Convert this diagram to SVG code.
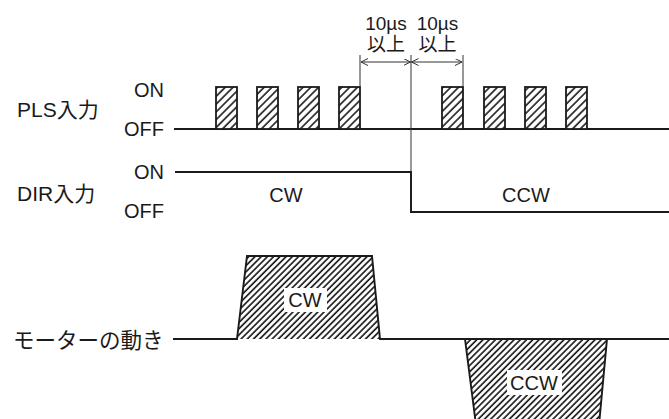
<svg xmlns="http://www.w3.org/2000/svg" width="669" height="419" viewBox="0 0 669 419">
<style>
.t{font-family:"Liberation Sans","Noto Sans CJK JP",sans-serif;fill:#1a1a1a;}
.w{fill:none;stroke:#1a1a1a;stroke-width:1.9;}
.d{fill:none;stroke:#333;stroke-width:1;}
.hp{fill:url(#hatchP);stroke:#1a1a1a;stroke-width:1.8;}
.hm{fill:url(#hatchM);stroke:none;}
</style>
<defs>
<pattern id="hatchP" width="5.5" height="5.5" patternUnits="userSpaceOnUse" patternTransform="rotate(45)">
<rect width="5.5" height="5.5" fill="#fff"/>
<line x1="1" y1="0" x2="1" y2="5.5" stroke="#1a1a1a" stroke-width="1.6"/>
</pattern>
<pattern id="hatchM" width="4.4" height="4.4" patternUnits="userSpaceOnUse" patternTransform="rotate(45)">
<rect width="4.4" height="4.4" fill="#fff"/>
<line x1="1" y1="0" x2="1" y2="4.4" stroke="#111" stroke-width="1.6"/>
</pattern>
<marker id="arr" markerWidth="9" markerHeight="9" refX="7" refY="3.5" orient="auto-start-reverse" markerUnits="userSpaceOnUse">
<path d="M0,0 L7,3.5 L0,7" fill="none" stroke="#333" stroke-width="1"/>
</marker>
</defs>

<g id="labels">
<text class="t" x="17" y="117" font-size="21">PLS入力</text>
<text class="t" x="17" y="201" font-size="21">DIR入力</text>
<text class="t" x="13" y="348" font-size="21.5">モーターの動き</text>
<text class="t" x="164" y="97" font-size="20" text-anchor="end">ON</text>
<text class="t" x="164" y="136" font-size="20" text-anchor="end">OFF</text>
<text class="t" x="164" y="179" font-size="20" text-anchor="end">ON</text>
<text class="t" x="164" y="218" font-size="20" text-anchor="end">OFF</text>
</g>

<g id="pls-signal">
<path class="w" d="M174 129 H669"/>
<rect class="hp" x="216" y="87" width="21" height="42"/>
<rect class="hp" x="257" y="87" width="21" height="42"/>
<rect class="hp" x="298" y="87" width="21" height="42"/>
<rect class="hp" x="339" y="87" width="21" height="42"/>
<rect class="hp" x="442" y="87" width="21" height="42"/>
<rect class="hp" x="484" y="87" width="21" height="42"/>
<rect class="hp" x="525" y="87" width="21" height="42"/>
<rect class="hp" x="566" y="87" width="21" height="42"/>
</g>

<g id="timing-dimension">
<path class="d" d="M360 55 V87 M463 55 V87 M411 55 V213"/>
<line class="d" x1="361" y1="62" x2="410.5" y2="62" marker-start="url(#arr)" marker-end="url(#arr)"/>
<line class="d" x1="411.5" y1="62" x2="462" y2="62" marker-start="url(#arr)" marker-end="url(#arr)"/>
<text class="t" x="386" y="30" font-size="19" text-anchor="middle">10µs</text>
<text class="t" x="386" y="51" font-size="19" text-anchor="middle">以上</text>
<text class="t" x="437.5" y="30" font-size="19" text-anchor="middle">10µs</text>
<text class="t" x="437.5" y="51" font-size="19" text-anchor="middle">以上</text>
</g>

<g id="dir-signal">
<path class="w" d="M175 172 H411 V212 H669"/>
<text class="t" x="286" y="202" font-size="20" text-anchor="middle">CW</text>
<text class="t" x="526" y="202" font-size="20" text-anchor="middle">CCW</text>
</g>

<g id="motor-motion">
<path class="hm" d="M237 339 L247 256 H372 L380 339 Z"/>
<path class="hm" d="M465 339 L476 425 H599 L607 339 Z"/>
<path class="w" d="M173 339 H237 L247 256 H372 L380 339 H465 L476 425 M599 425 L607 339 H669 M465 339 H607"/>
<rect x="284" y="288" width="43" height="24" fill="#fff"/>
<text class="t" x="305" y="307" font-size="20" text-anchor="middle">CW</text>
<rect x="507" y="370" width="55" height="25" fill="#fff"/>
<text class="t" x="534" y="390" font-size="20" text-anchor="middle">CCW</text>
</g>
</svg>
